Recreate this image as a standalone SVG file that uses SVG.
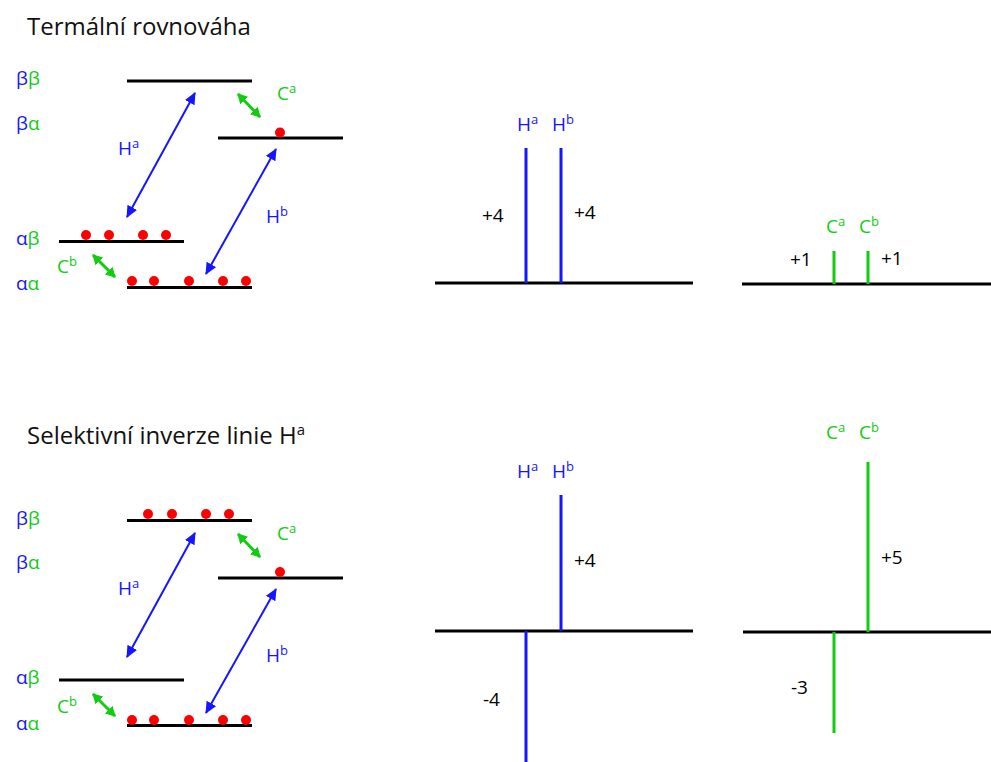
<svg xmlns="http://www.w3.org/2000/svg" width="991" height="762" viewBox="0 0 991 762">
<defs>
<style>
text{font-family:"Open Sans","Noto Sans","DejaVu Sans",sans-serif}
.title{font-size:24px;fill:#111}
.lvl{stroke:#000;stroke-width:3;fill:none}
.dot{fill:#ff0000}
.bl{fill:#1515ff}
.gr{fill:#11cc11}
.num{font-size:19px;fill:#000}
.lab{font-size:19px}
.row{font-size:19px}
.sup{font-size:13px}
.ha{stroke:#1515ff;stroke-width:2;fill:none}
.ca{stroke:#11cc11;stroke-width:3;fill:none}
.sb{stroke:#1515ff;stroke-width:3;fill:none}
.sg{stroke:#11cc11;stroke-width:3;fill:none}
</style>
<marker id="ab" viewBox="0 0 12 11" refX="11" refY="5.5" markerWidth="12" markerHeight="11" markerUnits="userSpaceOnUse" orient="auto-start-reverse"><path d="M0,0 L12,5.5 L0,11 z" fill="#1515ff"/></marker>
<marker id="ag" viewBox="0 0 10 11" refX="9" refY="5.5" markerWidth="10" markerHeight="11" markerUnits="userSpaceOnUse" orient="auto-start-reverse"><path d="M0,0 L10,5.5 L0,11 z" fill="#11cc11"/></marker>
</defs>

<!-- Top section -->
<text class="title" x="27" y="35">Termální rovnováha</text>

<g id="rows-top">
<text class="row" x="16" y="85"><tspan class="bl">β</tspan><tspan class="gr">β</tspan></text>
<text class="row" x="16" y="130"><tspan class="bl">β</tspan><tspan class="gr">α</tspan></text>
<text class="row" x="16" y="245"><tspan class="bl">α</tspan><tspan class="gr">β</tspan></text>
<text class="row" x="16" y="290"><tspan class="bl">α</tspan><tspan class="gr">α</tspan></text>
</g>

<g id="levels-top">
<line class="lvl" x1="127" y1="81" x2="252" y2="81"/>
<line class="lvl" x1="218" y1="138" x2="343" y2="138"/>
<line class="lvl" x1="59" y1="241.5" x2="184" y2="241.5"/>
<line class="lvl" x1="127" y1="287.5" x2="252" y2="287.5"/>
<circle class="dot" cx="280" cy="132.5" r="5"/>
<circle class="dot" cx="86" cy="235" r="5"/>
<circle class="dot" cx="109" cy="235" r="5"/>
<circle class="dot" cx="143" cy="235" r="5"/>
<circle class="dot" cx="166" cy="235" r="5"/>
<circle class="dot" cx="132" cy="281" r="5"/>
<circle class="dot" cx="154" cy="281" r="5"/>
<circle class="dot" cx="189" cy="281" r="5"/>
<circle class="dot" cx="223" cy="281" r="5"/>
<circle class="dot" cx="246" cy="281" r="5"/>
</g>

<g id="connectors-top">
<line class="ha" x1="127" y1="217" x2="195" y2="93" marker-start="url(#ab)" marker-end="url(#ab)"/>
<line class="ha" x1="206" y1="274" x2="276" y2="149" marker-start="url(#ab)" marker-end="url(#ab)"/>
<line class="ca" x1="238" y1="94" x2="260" y2="117" marker-start="url(#ag)" marker-end="url(#ag)"/>
<line class="ca" x1="93" y1="255" x2="115" y2="277" marker-start="url(#ag)" marker-end="url(#ag)"/>
</g>

<g id="labels-top">
<text class="lab bl" x="118" y="155">H<tspan class="sup" dy="-7">a</tspan></text>
<text class="lab gr" x="277" y="100">C<tspan class="sup" dy="-7">a</tspan></text>
<text class="lab bl" x="266" y="223">H<tspan class="sup" dy="-7">b</tspan></text>
<text class="lab gr" x="57" y="273">C<tspan class="sup" dy="-7">b</tspan></text>
</g>

<g id="spec-H-top">
<line class="lvl" x1="435" y1="283" x2="693" y2="283"/>
<line class="sb" x1="526" y1="148" x2="526" y2="283"/>
<line class="sb" x1="561" y1="148" x2="561" y2="283"/>
<text class="lab bl" x="517" y="131">H<tspan class="sup" dy="-7">a</tspan></text>
<text class="lab bl" x="552" y="131">H<tspan class="sup" dy="-7">b</tspan></text>
<text class="num" x="482" y="222">+4</text>
<text class="num" x="574" y="219">+4</text>
</g>

<g id="spec-C-top">
<line class="lvl" x1="742" y1="284" x2="991" y2="284"/>
<line class="sg" x1="834" y1="251" x2="834" y2="284"/>
<line class="sg" x1="868" y1="251" x2="868" y2="284"/>
<text class="lab gr" x="826" y="233">C<tspan class="sup" dy="-7">a</tspan></text>
<text class="lab gr" x="859" y="233">C<tspan class="sup" dy="-7">b</tspan></text>
<text class="num" x="790" y="266">+1</text>
<text class="num" x="881" y="265">+1</text>
</g>

<!-- Bottom section -->
<text class="title" x="27" y="444">Selektivní inverze linie H<tspan font-size="15" dy="-9">a</tspan></text>

<g id="rows-bottom">
<text class="row" x="16" y="525"><tspan class="bl">β</tspan><tspan class="gr">β</tspan></text>
<text class="row" x="16" y="569"><tspan class="bl">β</tspan><tspan class="gr">α</tspan></text>
<text class="row" x="16" y="684"><tspan class="bl">α</tspan><tspan class="gr">β</tspan></text>
<text class="row" x="16" y="730"><tspan class="bl">α</tspan><tspan class="gr">α</tspan></text>
</g>

<g id="levels-bottom">
<line class="lvl" x1="127" y1="520.5" x2="252" y2="520.5"/>
<line class="lvl" x1="218" y1="578" x2="343" y2="578"/>
<line class="lvl" x1="59" y1="680" x2="184" y2="680"/>
<line class="lvl" x1="127" y1="725.5" x2="252" y2="725.5"/>
<circle class="dot" cx="148" cy="514" r="5"/>
<circle class="dot" cx="172" cy="514" r="5"/>
<circle class="dot" cx="206" cy="514" r="5"/>
<circle class="dot" cx="229" cy="514" r="5"/>
<circle class="dot" cx="280" cy="572" r="5"/>
<circle class="dot" cx="132" cy="720" r="5"/>
<circle class="dot" cx="154" cy="720" r="5"/>
<circle class="dot" cx="189" cy="720" r="5"/>
<circle class="dot" cx="223" cy="720" r="5"/>
<circle class="dot" cx="246" cy="720" r="5"/>
</g>

<g id="connectors-bottom">
<line class="ha" x1="127" y1="657" x2="195" y2="533" marker-start="url(#ab)" marker-end="url(#ab)"/>
<line class="ha" x1="206" y1="713" x2="276" y2="589" marker-start="url(#ab)" marker-end="url(#ab)"/>
<line class="ca" x1="238" y1="534" x2="260" y2="557" marker-start="url(#ag)" marker-end="url(#ag)"/>
<line class="ca" x1="93" y1="694" x2="115" y2="716" marker-start="url(#ag)" marker-end="url(#ag)"/>
</g>

<g id="labels-bottom">
<text class="lab bl" x="118" y="595">H<tspan class="sup" dy="-7">a</tspan></text>
<text class="lab gr" x="277" y="540">C<tspan class="sup" dy="-7">a</tspan></text>
<text class="lab bl" x="266" y="662">H<tspan class="sup" dy="-7">b</tspan></text>
<text class="lab gr" x="57" y="713">C<tspan class="sup" dy="-7">b</tspan></text>
</g>

<g id="spec-H-bottom">
<line class="lvl" x1="435" y1="631" x2="693" y2="631"/>
<line class="sb" x1="561" y1="495" x2="561" y2="631"/>
<line class="sb" x1="526" y1="631" x2="526" y2="762"/>
<text class="lab bl" x="517" y="478">H<tspan class="sup" dy="-7">a</tspan></text>
<text class="lab bl" x="552" y="478">H<tspan class="sup" dy="-7">b</tspan></text>
<text class="num" x="574" y="567">+4</text>
<text class="num" x="483" y="706">-4</text>
</g>

<g id="spec-C-bottom">
<line class="lvl" x1="743" y1="632" x2="991" y2="632"/>
<line class="sg" x1="868" y1="462" x2="868" y2="632"/>
<line class="sg" x1="834" y1="632" x2="834" y2="733"/>
<text class="lab gr" x="826" y="439">C<tspan class="sup" dy="-7">a</tspan></text>
<text class="lab gr" x="859" y="439">C<tspan class="sup" dy="-7">b</tspan></text>
<text class="num" x="881" y="564">+5</text>
<text class="num" x="791" y="694">-3</text>
</g>
</svg>
